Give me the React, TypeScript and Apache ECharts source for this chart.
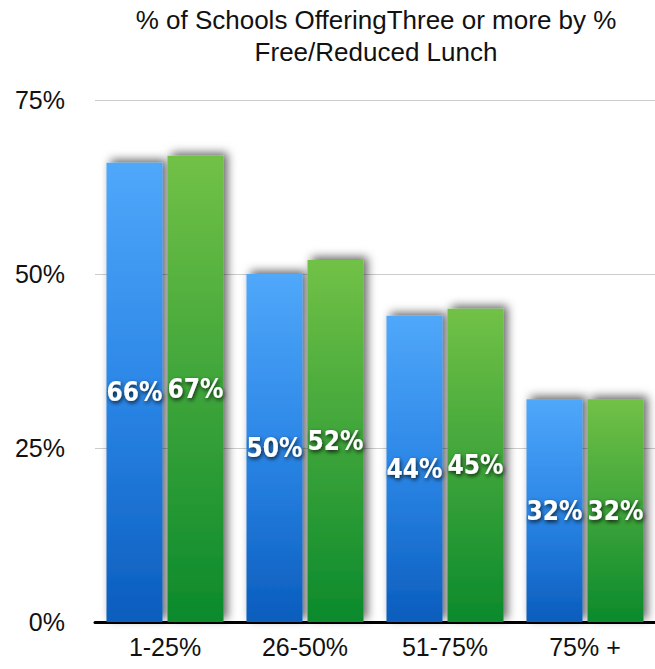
import React, { useEffect, useRef } from "react";
import * as echarts from "echarts";

const categories = ["1-25%", "26-50%", "51-75%", "75% +"];
const blueValues = [66, 50, 44, 32];
const greenValues = [67, 52, 45, 32];
const yTicks = [0, 25, 50, 75];
const titleText = "% of Schools OfferingThree or more by %\nFree/Reduced Lunch";

export default function App() {
  const ref = useRef<HTMLDivElement>(null);
  useEffect(() => {
    if (!ref.current) return;
    const chart = echarts.init(ref.current, null, { renderer: "svg" });
    const labelCfg = {
      show: true,
      position: "inside" as const,
      formatter: "{c}%",
      color: "#ffffff",
      fontFamily: "DejaVu Sans Condensed, Liberation Sans, sans-serif",
      fontWeight: "bold" as const,
      fontSize: 26,
      textShadowColor: "rgba(0,0,0,0.8)",
      textShadowBlur: 4,
      textShadowOffsetX: 1,
      textShadowOffsetY: 2,
    };
    const shadow = {
      shadowColor: "rgba(0,0,0,0.6)",
      shadowBlur: 10,
      shadowOffsetX: 4,
      shadowOffsetY: -3,
    };
    chart.setOption({
      animation: false,
      backgroundColor: "#ffffff",
      title: {
        text: titleText,
        left: 376,
        top: 4,
        padding: 0,
        textAlign: "center",
        textStyle: {
          fontFamily: "Liberation Sans, Arial, sans-serif",
          fontWeight: "normal",
          fontSize: 26,
          lineHeight: 32,
          color: "#111111",
        },
      },
      grid: { left: 95, right: 0, top: 100, bottom: 47, containLabel: false },
      xAxis: {
        type: "category",
        data: categories,
        axisLine: { lineStyle: { color: "#000000", width: 3 } },
        axisTick: { show: false },
        axisLabel: {
          fontFamily: "Liberation Sans, Arial, sans-serif",
          fontSize: 25,
          color: "#111111",
          margin: 12,
        },
      },
      yAxis: {
        type: "value",
        min: yTicks[0],
        max: yTicks[yTicks.length - 1],
        interval: 25,
        axisLine: { show: false },
        axisTick: { show: false },
        splitLine: { lineStyle: { color: "#cccccc", width: 1 } },
        axisLabel: {
          formatter: "{value}%",
          fontFamily: "Liberation Sans, Arial, sans-serif",
          fontSize: 25,
          color: "#111111",
          margin: 30,
        },
      },
      series: [
        {
          type: "bar",
          data: blueValues,
          barWidth: 56,
          barGap: "9%",
          label: labelCfg,
          itemStyle: {
            color: new echarts.graphic.LinearGradient(0, 0, 0, 1, [
              { offset: 0, color: "#50a8fa" },
              { offset: 0.5, color: "#2b86e6" },
              { offset: 1, color: "#0b5dbd" },
            ]),
            ...shadow,
          },
        },
        {
          type: "bar",
          data: greenValues,
          barWidth: 56,
          label: labelCfg,
          itemStyle: {
            color: new echarts.graphic.LinearGradient(0, 0, 0, 1, [
              { offset: 0, color: "#72c146" },
              { offset: 0.5, color: "#3ea53a" },
              { offset: 1, color: "#0b8a2c" },
            ]),
            ...shadow,
          },
        },
      ],
    });
    return () => chart.dispose();
  }, []);
  return (
    <div
      ref={ref}
      style={{ position: "fixed", left: 0, top: 0, width: 655, height: 669 }}
    />
  );
}
